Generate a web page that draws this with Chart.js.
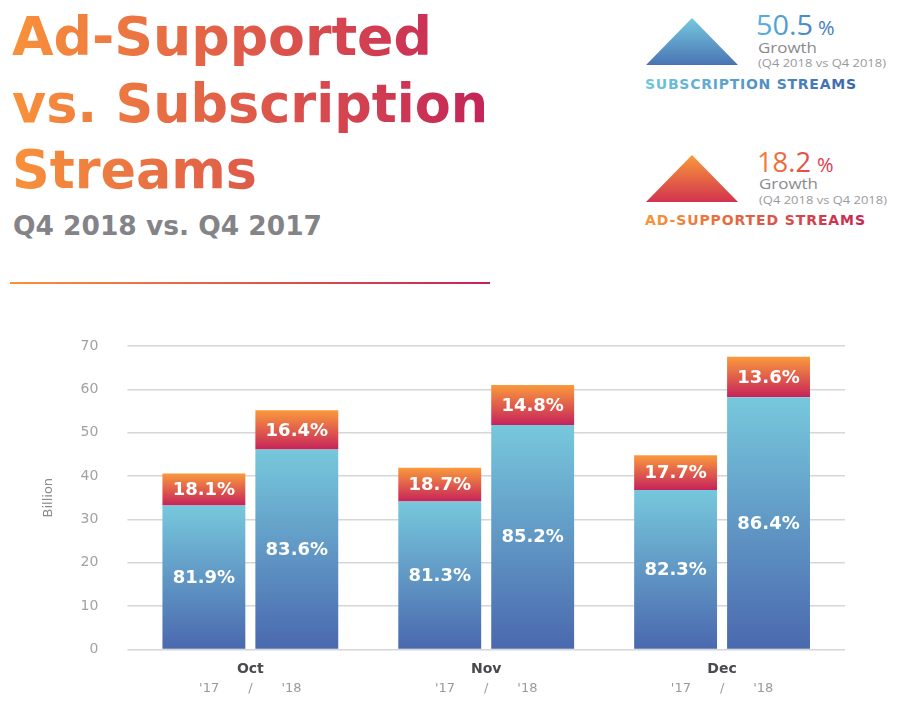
<!DOCTYPE html>
<html>
<head>
<meta charset="utf-8">
<script src="https://cdn.jsdelivr.net/npm/chart.js@4"></script>
<style>
  body { margin: 0; background: #fff; width: 900px; height: 707px; overflow: hidden; position: relative; font-family: "DejaVu Sans", sans-serif; }
  #header { position: absolute; left: 0; top: 0; }
  #chartBox { position: absolute; left: 0; top: 300px; width: 900px; height: 407px; }
</style>
</head>
<body>
<svg id="header" width="900" height="300">
  <defs>
    <linearGradient id="titleGrad" gradientUnits="userSpaceOnUse" x1="13" y1="0" x2="490" y2="0">
      <stop offset="0" stop-color="#f8913a"/>
      <stop offset="1" stop-color="#c42359"/>
    </linearGradient>
    <linearGradient id="subTri" x1="0" y1="0" x2="0" y2="1">
      <stop offset="0" stop-color="#76c9de"/>
      <stop offset="1" stop-color="#4a74b4"/>
    </linearGradient>
    <linearGradient id="adTri" x1="0" y1="0" x2="0" y2="1">
      <stop offset="0" stop-color="#f99a3a"/>
      <stop offset="1" stop-color="#d2334f"/>
    </linearGradient>
    <linearGradient id="subText" gradientUnits="userSpaceOnUse" x1="645" y1="0" x2="856" y2="0">
      <stop offset="0" stop-color="#70c8dc"/>
      <stop offset="1" stop-color="#3b64ae"/>
    </linearGradient>
    <linearGradient id="adText" gradientUnits="userSpaceOnUse" x1="645" y1="0" x2="865" y2="0">
      <stop offset="0" stop-color="#f99538"/>
      <stop offset="1" stop-color="#c8254f"/>
    </linearGradient>
    <linearGradient id="subNum" gradientUnits="userSpaceOnUse" x1="757" y1="0" x2="836" y2="0">
      <stop offset="0" stop-color="#5ab2dc"/>
      <stop offset="1" stop-color="#3d74bc"/>
    </linearGradient>
    <linearGradient id="adNum" gradientUnits="userSpaceOnUse" x1="757" y1="0" x2="836" y2="0">
      <stop offset="0" stop-color="#f5843a"/>
      <stop offset="1" stop-color="#d6304a"/>
    </linearGradient>
  </defs>

  <g font-family="DejaVu Sans" font-weight="bold" fill="url(#titleGrad)" font-size="53">
    <text x="12" y="55" textLength="420" lengthAdjust="spacingAndGlyphs">Ad-Supported</text>
    <text x="12" y="122" textLength="476" lengthAdjust="spacingAndGlyphs">vs. Subscription</text>
    <text x="12" y="188" textLength="245" lengthAdjust="spacingAndGlyphs">Streams</text>
  </g>
  <text x="13" y="235" font-family="DejaVu Sans" font-weight="bold" font-size="26" fill="#838388" textLength="309" lengthAdjust="spacingAndGlyphs">Q4 2018 vs. Q4 2017</text>
  <rect x="10" y="282" width="480" height="2" fill="url(#titleGrad)"/>

  <polygon points="692,18 738,65 646,65" fill="url(#subTri)"/>
  <text x="756" y="35" font-family="Open Sans" font-size="28" fill="url(#subNum)"><tspan textLength="57" lengthAdjust="spacingAndGlyphs">50.5</tspan><tspan font-size="20" dx="5">%</tspan></text>
  <text x="758" y="53" font-family="Open Sans" font-size="15" fill="#8a8a8e" textLength="59" lengthAdjust="spacingAndGlyphs">Growth</text>
  <text x="758" y="67" font-family="Open Sans" font-size="11" fill="#9a9a9e" textLength="128" lengthAdjust="spacingAndGlyphs">(Q4 2018 vs Q4 2018)</text>
  <text x="645" y="89" font-family="DejaVu Sans" font-weight="bold" font-size="14" fill="url(#subText)" textLength="211" lengthAdjust="spacing">SUBSCRIPTION STREAMS</text>

  <polygon points="692,155 738,202 646,202" fill="url(#adTri)"/>
  <text x="757" y="172" font-family="Open Sans" font-size="28" fill="url(#adNum)"><tspan textLength="54" lengthAdjust="spacingAndGlyphs">18.2</tspan><tspan font-size="20" dx="6">%</tspan></text>
  <text x="759" y="189" font-family="Open Sans" font-size="15" fill="#8a8a8e" textLength="59" lengthAdjust="spacingAndGlyphs">Growth</text>
  <text x="759" y="204" font-family="Open Sans" font-size="11" fill="#9a9a9e" textLength="128" lengthAdjust="spacingAndGlyphs">(Q4 2018 vs Q4 2018)</text>
  <text x="645" y="225" font-family="DejaVu Sans" font-weight="bold" font-size="14" fill="url(#adText)" textLength="220" lengthAdjust="spacing">AD-SUPPORTED STREAMS</text>
</svg>

<div id="chartBox"><canvas id="streamsChart" width="900" height="407"></canvas></div>

<script>
  //! DATA

  // months and years on the category axis
  const months = ["Oct", "Nov", "Dec"];
  const years = ["'17", "'18"];

  // streams in billions, per month
  const subscription17 = [33.2, 34.1, 36.8];
  const adSupported17 = [7.4, 7.8, 8.0];
  const subscription18 = [46.1, 51.8, 58.2];
  const adSupported18 = [9.1, 9.2, 9.3];

  // share labels printed inside the bars
  const subShare17 = ["81.9%", "81.3%", "82.3%"];
  const adShare17 = ["18.1%", "18.7%", "17.7%"];
  const subShare18 = ["83.6%", "85.2%", "86.4%"];
  const adShare18 = ["16.4%", "14.8%", "13.6%"];

  // y axis ticks
  const yMax = 70;
  const yStep = 10;

  //! FUNCTIONS

  // vertical gradient running over one bar segment
  function segmentFill(baseValues, values, topColor, bottomColor) {
    return context => {
      const chart = context.chart;
      const y = chart.scales.y;
      if (!chart.chartArea || !y) return bottomColor;
      const i = context.dataIndex;
      const base = baseValues ? baseValues[i] : 0;
      const g = chart.ctx.createLinearGradient(
        0, y.getPixelForValue(base + values[i]), 0, y.getPixelForValue(base)
      );
      g.addColorStop(0, topColor);
      g.addColorStop(1, bottomColor);
      return g;
    };
  }

  // white share labels in the middle of each segment
  const shareLabels = {
    id: "shareLabels",
    afterDatasetsDraw(chart) {
      const ctx = chart.ctx;
      ctx.save();
      ctx.font = "bold 18px 'DejaVu Sans'";
      ctx.fillStyle = "#ffffff";
      ctx.textAlign = "center";
      ctx.textBaseline = "middle";
      chart.data.datasets.forEach((ds, d) => {
        chart.getDatasetMeta(d).data.forEach((bar, i) => {
          ctx.fillText(ds.shares[i], bar.x, (bar.y + bar.base) / 2 + 1);
        });
      });
      ctx.restore();
    }
  };

  const subTop = "#77c8dc";
  const subBottom = "#4a68ae";
  const adTop = "#fa9a3c";
  const adBottom = "#c6235a";
  const gridColor = "#d6d6d6";

  new Chart(document.getElementById("streamsChart"), {
    type: "bar",
    data: {
      labels: months,
      datasets: [
        { label: "Subscription '17", stack: "y17", data: subscription17, shares: subShare17,
          backgroundColor: segmentFill(null, subscription17, subTop, subBottom) },
        { label: "Ad-Supported '17", stack: "y17", data: adSupported17, shares: adShare17,
          backgroundColor: segmentFill(subscription17, adSupported17, adTop, adBottom) },
        { label: "Subscription '18", stack: "y18", data: subscription18, shares: subShare18,
          backgroundColor: segmentFill(null, subscription18, subTop, subBottom) },
        { label: "Ad-Supported '18", stack: "y18", data: adSupported18, shares: adShare18,
          backgroundColor: segmentFill(subscription18, adSupported18, adTop, adBottom) }
      ]
    },
    options: {
      responsive: false,
      animation: false,
      categoryPercentage: 0.788,
      barPercentage: 0.892,
      layout: { padding: { left: 37, right: 55, top: 46, bottom: 10 } },
      plugins: {
        legend: { display: false },
        tooltip: { enabled: false }
      },
      scales: {
        x: {
          stacked: true,
          grid: { display: false, drawTicks: false },
          border: { display: false },
          ticks: { padding: 12, color: "#4a4a4e", font: { family: "DejaVu Sans", size: 14, weight: "bold" } },
          // month labels sit close above the year labels
          afterFit: scale => { scale.height = 30; }
        },
        x2: {
          type: "category",
          position: "bottom",
          offset: true,
          labels: months.map(() => years[0] + "       /       " + years[1]),
          grid: { display: false, drawTicks: false },
          border: { display: false },
          ticks: { padding: 1, color: "#9a9a9e", font: { family: "DejaVu Sans", size: 13 } }
        },
        y: {
          stacked: true,
          min: 0,
          max: yMax,
          ticks: { stepSize: yStep, padding: 29, color: "#a2a2a6", font: { family: "DejaVu Sans", size: 14 } },
          grid: { color: gridColor, lineWidth: 1.5, drawTicks: true, tickLength: 5 },
          border: { display: false },
          title: {
            display: true,
            text: "Billion",
            color: "#8a8a8e",
            padding: { top: 4, bottom: -5 },
            font: { family: "DejaVu Sans", size: 13 }
          }
        },
        // right-hand stubs so the grid runs a little past the last bar
        y2: {
          position: "right",
          min: 0,
          max: yMax,
          ticks: { display: false, stepSize: yStep },
          grid: { color: gridColor, lineWidth: 1.5, drawOnChartArea: false, drawTicks: true, tickLength: 5 },
          border: { display: false }
        }
      }
    },
    plugins: [shareLabels]
  });
</script>
</body>
</html>
